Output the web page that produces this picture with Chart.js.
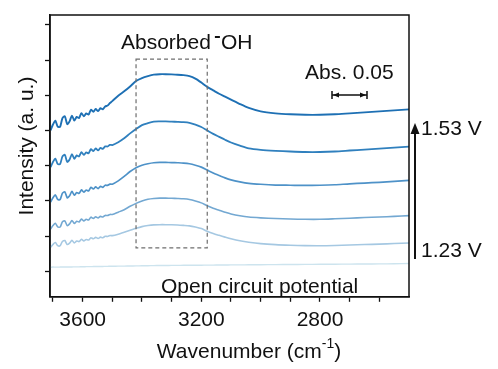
<!DOCTYPE html>
<html>
<head>
<meta charset="utf-8">
<script src="https://cdn.jsdelivr.net/npm/chart.js@4.4.1/dist/chart.umd.min.js"></script>
<style>
  body { margin: 0; background: #fff; }
  canvas { display: block; }
</style>
</head>
<body>
<canvas id="ftir" width="498" height="369"></canvas>
<script>
// wavenumber grid (cm-1), dense where the water-vapour ripples are
const wavenumbers = [
  3708, 3700, 3692, 3684, 3676, 3668, 3660, 3652, 3644, 3636, 3628, 3620, 3612, 3604,
  3596, 3588, 3580, 3572, 3564, 3556, 3548, 3540, 3532, 3524, 3516, 3508, 3500,
  3480, 3460, 3440, 3420, 3400, 3380, 3360, 3340, 3320, 3300, 3280, 3260, 3240, 3220,
  3200, 3180, 3160, 3140, 3120, 3100, 3070, 3040, 3000, 2950, 2900, 2850, 2800, 2750,
  2700, 2650, 2600, 2550, 2500
];

// stacked spectra, top (1.53 V) to bottom (1.23 V), already offset
const spec153 = [
  144.2, 150.1, 154.0, 147.9, 147.7, 156.6, 158.5, 150.4, 153.3, 159.2, 154.0, 157.9, 156.8, 161.7,
  158.5, 161.4, 160.3, 165.2, 163.1, 165.9, 163.8, 166.7, 165.6, 168.5, 169.5, 172, 174,
  179.5, 184, 189, 194.5, 197.5, 199.5, 201, 201.5, 201.5, 201.3, 201, 200.5, 199.5, 197,
  193, 188.5, 185, 181.5, 178.5, 175.5, 171, 167, 163.5, 161.5, 160.5, 160, 160, 160.5,
  161.5, 162.5, 163.5, 164.5, 165.5
];
const spec2 = [
  106.5, 111.8, 115.2, 109.7, 109.6, 117.5, 119.2, 111.8, 114.4, 119.7, 115.0, 118.5, 117.5, 121.8,
  119.0, 121.6, 120.6, 124.9, 123.0, 125.6, 123.6, 126.2, 125.2, 127.7, 127.6, 129.3, 129.1,
  132, 136, 141, 145.5, 149.5, 151.5, 153, 153.2, 153.2, 153, 152.8, 152.5, 151.8, 150,
  147.5, 144, 140.5, 137.5, 134.5, 131.7, 128.5, 125.7, 124.2, 123.2, 122.5, 122, 122, 122.5,
  123.5, 124.5, 125.5, 126.5, 127.5
];
const spec3 = [
  70.9, 75.3, 78.1, 73.5, 73.4, 80.0, 81.3, 75.2, 77.3, 81.7, 77.8, 80.6, 79.7, 83.3,
  81.0, 83.1, 82.2, 85.8, 84.2, 86.3, 84.6, 86.8, 85.9, 88.0, 87.9, 89.2, 89.1,
  92.5, 97, 102, 106, 108.5, 110, 111, 111.3, 111.3, 111.2, 111, 110.7, 110, 108.5,
  106.5, 103.5, 100.5, 98, 95.5, 93.5, 91.5, 90, 89, 88.2, 88, 87.8, 88, 88.5,
  89.5, 90.2, 91, 92, 93
];
const spec4 = [
  43.3, 46.8, 49.1, 45.4, 45.3, 50.6, 51.7, 46.8, 48.5, 52.0, 48.9, 51.2, 50.5, 53.4,
  51.5, 53.2, 52.5, 55.4, 54.1, 55.8, 54.5, 56.2, 55.5, 57.2, 57.1, 58.2, 58.1,
  60.5, 63, 66.5, 69.5, 72, 73.7, 74.5, 74.8, 74.8, 74.7, 74.5, 74.2, 73.5, 72,
  70, 67, 64.5, 62.5, 60.5, 58.7, 56.8, 55.5, 54.7, 54, 53.5, 53.2, 53.2, 53.7,
  54.3, 55, 55.5, 56.2, 57
];
const spec123 = [
  24.6, 27.5, 29.4, 26.3, 26.2, 30.6, 31.5, 27.4, 28.8, 31.7, 29.1, 31.0, 30.4, 32.8,
  31.2, 32.6, 32.0, 34.4, 33.3, 34.7, 33.6, 35.0, 34.4, 35.8, 35.7, 36.6, 36.5,
  38, 40, 42, 44, 45.7, 46.8, 47.5, 47.7, 47.7, 47.6, 47.4, 47, 46.5, 45.3,
  43.7, 41, 38.7, 36.8, 35, 33.3, 31.2, 29.7, 28.3, 27.3, 26.7, 26.3, 26.2, 26.5,
  27, 27.4, 27.8, 28.4, 29
];
const specOCP = [
  4.2, 4.4, 4.3, 4.3, 4.4, 4.5, 4.4, 4.4, 4.5, 4.5, 4.6, 4.6, 4.6, 4.7,
  4.7, 4.8, 4.8, 4.8, 4.9, 4.9, 5.0, 5.0, 5.0, 5.1, 5.1, 5.2, 5.2,
  5.3, 5.4, 5.5, 5.6, 5.7, 5.8, 5.9, 6.0, 6.0, 6.1, 6.1, 6.2, 6.2, 6.3,
  6.3, 6.4, 6.4, 6.5, 6.5, 6.6, 6.6, 6.7, 6.8, 6.9, 7.0, 7.1, 7.2, 7.3,
  7.4, 7.5, 7.6, 7.8, 8.0
];

const xTicks = [3700, 3600, 3500, 3400, 3300, 3200, 3100, 3000, 2900, 2800, 2700, 2600];
const xLabelled = [3600, 3200, 2800];
const yTicks = [0, 36, 72, 108, 144, 180, 216, 252];

// dashed box around the adsorbed OH band
const boxWn = [3420, 3180];
const boxIntensity = [24, 217];

const FONT = '"Liberation Sans", Arial, sans-serif';
const INK = '#111';

const series = [
  { data: specOCP, color: 'rgb(205,228,238)', width: 1.4 },
  { data: spec123, color: 'rgb(165,200,226)', width: 1.6 },
  { data: spec4, color: 'rgb(115,168,210)', width: 1.6 },
  { data: spec3, color: 'rgb(78,146,200)', width: 1.7 },
  { data: spec2, color: 'rgb(48,128,190)', width: 1.8 },
  { data: spec153, color: 'rgb(30,112,180)', width: 1.9 }
];

const annotations = {
  id: 'annotations',
  afterDraw(chart) {
    const { ctx, chartArea: a, scales: { x, y } } = chart;
    ctx.save();

    // closed frame
    ctx.strokeStyle = INK;
    ctx.lineWidth = 1.5;
    ctx.strokeRect(a.left, a.top, a.right - a.left, a.bottom - a.top);

    // dashed box
    const bx1 = x.getPixelForValue(boxWn[0]);
    const bx2 = x.getPixelForValue(boxWn[1]);
    const by1 = y.getPixelForValue(boxIntensity[1]);
    const by2 = y.getPixelForValue(boxIntensity[0]);
    ctx.setLineDash([4, 3]);
    ctx.strokeStyle = '#6e6e6e';
    ctx.lineWidth = 1.2;
    ctx.strokeRect(bx1, by1, bx2 - bx1, by2 - by1);
    ctx.setLineDash([]);

    ctx.fillStyle = INK;
    ctx.font = '21px ' + FONT;
    ctx.textBaseline = 'middle';
    ctx.textAlign = 'left';

    // Absorbed -OH
    ctx.fillText('Absorbed', 121, 43);
    const wAbs = ctx.measureText('Absorbed').width;
    ctx.lineWidth = 2;
    ctx.strokeStyle = INK;
    ctx.beginPath();
    ctx.moveTo(121 + wAbs + 4, 37);
    ctx.lineTo(121 + wAbs + 9, 37);
    ctx.stroke();
    ctx.fillText('OH', 121 + wAbs + 10, 43);

    // scale bar
    ctx.fillText('Abs. 0.05', 305, 73);
    ctx.lineWidth = 1.5;
    ctx.beginPath();
    ctx.moveTo(332, 95); ctx.lineTo(367, 95);
    ctx.moveTo(332, 91); ctx.lineTo(332, 99);
    ctx.moveTo(367, 91); ctx.lineTo(367, 99);
    ctx.stroke();
    ctx.beginPath();
    ctx.moveTo(333, 95); ctx.lineTo(339, 92.5); ctx.lineTo(339, 97.5); ctx.closePath();
    ctx.moveTo(366, 95); ctx.lineTo(360, 92.5); ctx.lineTo(360, 97.5); ctx.closePath();
    ctx.fill();

    // potential arrow
    ctx.lineWidth = 2;
    ctx.beginPath();
    ctx.moveTo(415, 259); ctx.lineTo(415, 132);
    ctx.stroke();
    ctx.beginPath();
    ctx.moveTo(415, 123); ctx.lineTo(410.5, 134); ctx.lineTo(419.5, 134); ctx.closePath();
    ctx.fill();
    ctx.fillText('1.53 V', 421, 129);
    ctx.fillText('1.23 V', 421, 251);

    ctx.fillText('Open circuit potential', 161, 287);

    // axis titles
    ctx.save();
    ctx.translate(27, 146);
    ctx.rotate(-Math.PI / 2);
    ctx.textAlign = 'center';
    ctx.fillText('Intensity (a. u.)', 0, 0);
    ctx.restore();

    const main = 'Wavenumber (cm';
    const wMain = ctx.measureText(main).width;
    const wClose = ctx.measureText(')').width;
    ctx.font = '14px ' + FONT;
    const wSup = ctx.measureText('-1').width;
    const start = 249 - (wMain + wSup + wClose) / 2;
    ctx.fillText('-1', start + wMain, 344);
    ctx.font = '21px ' + FONT;
    ctx.fillText(main, start, 352);
    ctx.fillText(')', start + wMain + wSup, 352);

    ctx.restore();
  }
};

new Chart(document.getElementById('ftir'), {
  type: 'line',
  data: {
    datasets: series.map(s => ({
      data: wavenumbers.map((w, i) => ({ x: w, y: s.data[i] })),
      borderColor: s.color,
      borderWidth: s.width,
      pointRadius: 0,
      tension: 0.25,
      fill: false
    }))
  },
  options: {
    responsive: false,
    animation: false,
    layout: { padding: { left: 45, right: 89, top: 15, bottom: 30 } },
    plugins: { legend: { display: false }, tooltip: { enabled: false } },
    scales: {
      x: {
        type: 'linear',
        reverse: true,
        min: 2500,
        max: 3710,
        afterBuildTicks: s => { s.ticks = xTicks.map(v => ({ value: v })); },
        ticks: {
          autoSkip: false,
          maxRotation: 0,
          padding: 6,
          color: INK,
          font: { family: FONT, size: 21 },
          callback: v => (xLabelled.includes(v) ? String(v) : '')
        },
        grid: { drawOnChartArea: false, drawTicks: true, tickLength: 5, color: INK, tickWidth: 1.3 },
        border: { display: true, color: INK, width: 1.5 }
      },
      y: {
        type: 'linear',
        min: -26,
        max: 262,
        afterBuildTicks: s => { s.ticks = yTicks.map(v => ({ value: v })); },
        ticks: { display: false },
        grid: { drawOnChartArea: false, drawTicks: true, tickLength: 5, color: INK, tickWidth: 1.3 },
        border: { display: true, color: INK, width: 1.5 }
      }
    }
  },
  plugins: [annotations]
});
</script>
</body>
</html>
